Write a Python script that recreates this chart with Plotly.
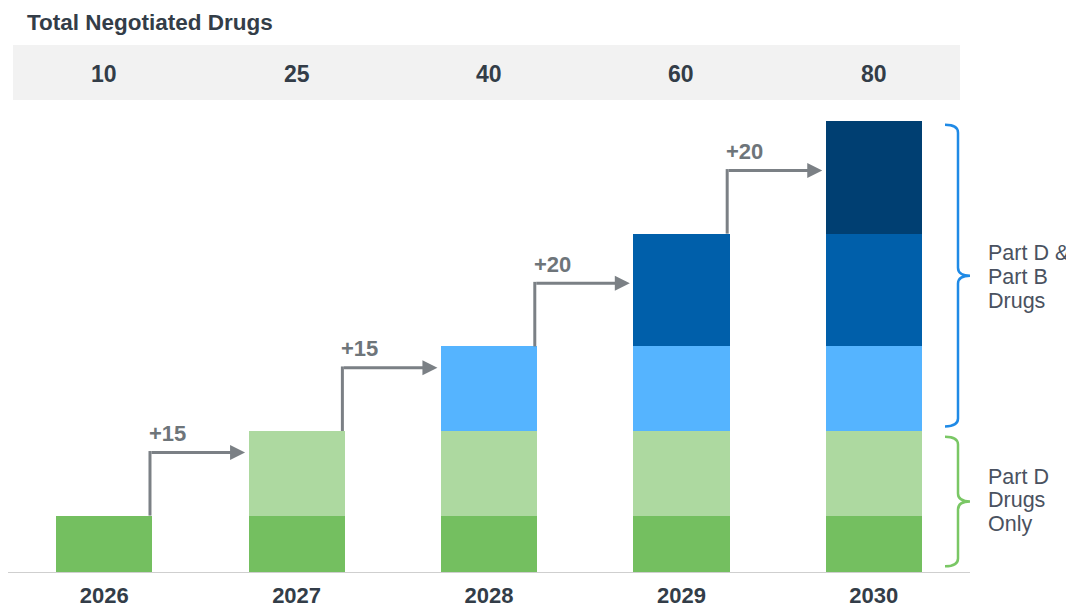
import plotly.graph_objects as go

# ---------------- data ----------------
years = ["2026", "2027", "2028", "2029", "2030"]
totals = [10, 25, 40, 60, 80]
increments = ["+15", "+15", "+20", "+20"]

seg_names = ["Part D wave 1", "Part D wave 2", "Part D & B wave 3", "Part D & B wave 4", "Part D & B wave 5"]
seg1 = [10, 10, 10, 10, 10]
seg2 = [0, 15, 15, 15, 15]
seg3 = [0, 0, 15, 15, 15]
seg4 = [0, 0, 0, 20, 20]
seg5 = [0, 0, 0, 0, 20]
seg_colors = ["#74BF60", "#ADD9A0", "#55B4FF", "#005FAA", "#003F72"]

title_text = "Total Negotiated Drugs"
bracket_top_label = ["Part D &", "Part B", "Drugs"]
bracket_bottom_label = ["Part D", "Drugs", "Only"]

# ---------------- layout constants ----------------
OFF = 8  # page body margin offset
W, H = 1074 - OFF, 607 - OFF
ML, MR, MT, MB = 8 - OFF, 104, 100 - OFF, 35
YMAX = 83.7
plot_w = W - ML - MR
plot_h = H - MT - MB
FONT = "Liberation Sans, Arial, sans-serif"
DARK = "#333D48"
GRAY = "#7B8085"


def px_to_paper_x(px):
    return (px - OFF - ML) / plot_w


def px_to_paper_y(py):
    return (H - MB - (py - OFF)) / plot_h


xs = list(range(len(years)))

fig = go.Figure()
for name, vals, col in zip(seg_names, [seg1, seg2, seg3, seg4, seg5], seg_colors):
    fig.add_trace(go.Bar(x=xs, y=vals, name=name, marker=dict(color=col, line=dict(width=0)),
                         hoverinfo="skip"))

shapes = []
annotations = []

# header band
shapes.append(dict(type="rect", xref="paper", yref="paper",
                   x0=px_to_paper_x(13), x1=px_to_paper_x(960),
                   y0=px_to_paper_y(100), y1=px_to_paper_y(45),
                   fillcolor="#F2F2F2", line=dict(width=0), layer="below"))

# title
annotations.append(dict(xref="paper", yref="paper", x=px_to_paper_x(25), y=px_to_paper_y(22),
                        xanchor="left", yanchor="middle", showarrow=False,
                        text="<b>" + title_text + "</b>",
                        font=dict(family=FONT, size=22.5, color=DARK)))

# header totals
for i, t in enumerate(totals):
    annotations.append(dict(xref="x", yref="paper", x=i, y=px_to_paper_y(74),
                            xanchor="center", yanchor="middle", showarrow=False,
                            text="<b>%d</b>" % t,
                            font=dict(family=FONT, size=23, color=DARK)))

# step arrows
RISE = 11.2
for i in range(1, len(totals)):
    prev = totals[i - 1]
    level = prev + RISE
    x0 = (i - 1) + 0.238
    x1 = i - 0.268
    shapes.append(dict(type="line", xref="x", yref="y", x0=x0, x1=x0, y0=prev, y1=level + 0.25,
                       line=dict(color=GRAY, width=3)))
    annotations.append(dict(xref="x", yref="y", axref="x", ayref="y",
                            x=x1, y=level, ax=x0, ay=level, text="", showarrow=True,
                            arrowhead=2, arrowsize=1, arrowwidth=3, arrowcolor=GRAY,
                            standoff=0, startstandoff=0))
    annotations.append(dict(xref="x", yref="y", x=x0, y=level, xanchor="left", yanchor="middle",
                            xshift=-3, yshift=19, showarrow=False,
                            text="<b>" + increments[i - 1] + "</b>",
                            font=dict(family=FONT, size=22, color="#6E757A")))


# brackets
def bracket(top, bottom, color):
    xl = px_to_paper_x(945)
    xv = px_to_paper_x(958)
    xt = px_to_paper_x(970)
    mid = (top + bottom) / 2
    r = 1.4
    path = (f"M {xl},{top} Q {xv},{top} {xv},{top - r} "
            f"L {xv},{mid + r} Q {xv},{mid} {xt},{mid} "
            f"Q {xv},{mid} {xv},{mid - r} "
            f"L {xv},{bottom + r} Q {xv},{bottom} {xl},{bottom}")
    return dict(type="path", xref="paper", yref="y", path=path,
                line=dict(color=color, width=2.5))


shapes.append(bracket(totals[-1] - 0.7, totals[1] + 0.8, "#1F8AE6"))
shapes.append(bracket(totals[1] - 1.0, 1.0, "#7AC765"))


def label_lines(lines, center_py, color):
    for k, ln in enumerate(lines):
        py = center_py + (k - 1) * 23.5
        annotations.append(dict(xref="paper", yref="paper", x=px_to_paper_x(986), y=px_to_paper_y(py),
                                xanchor="left", yanchor="middle", showarrow=False, text=ln,
                                font=dict(family=FONT, size=21.5, color=color)))


label_lines(bracket_top_label, 277, "#4A5260")
label_lines(bracket_bottom_label, 500, "#4A5260")

fig.update_layout(
    width=W, height=H,
    margin=dict(l=ML, r=MR, t=MT, b=MB, pad=0, autoexpand=False),
    barmode="stack", bargap=0.5,
    showlegend=False,
    plot_bgcolor="white", paper_bgcolor="white",
    xaxis=dict(range=[-0.5, 4.5], tickmode="array", tickvals=xs,
               ticktext=["<b>%s</b>" % y for y in years],
               tickfont=dict(family=FONT, size=22, color=DARK),
               ticklabelstandoff=3, automargin=False,
               showgrid=False, zeroline=False, showline=True, linecolor="#CFCFCF", linewidth=1.2,
               ticks="", fixedrange=True),
    yaxis=dict(range=[0, YMAX], visible=False, showgrid=False, zeroline=False, fixedrange=True,
               automargin=False),
    shapes=shapes,
    annotations=annotations,
)

fig.write_html("out.html")
